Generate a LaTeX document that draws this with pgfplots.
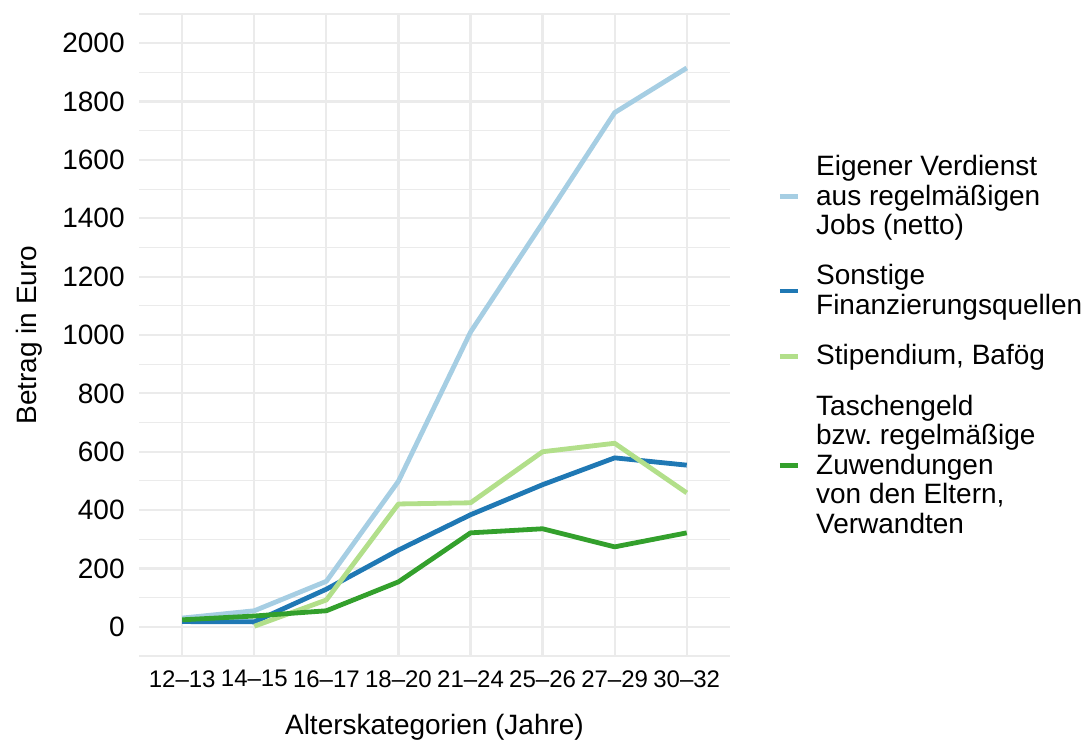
\documentclass[border=0pt]{standalone}
\usepackage{pgfplots}
\pgfplotsset{compat=1.18}
\usepackage{fontspec}
\setmainfont{Liberation Sans}
\frenchspacing
\definecolor{cA}{HTML}{A6CEE3}
\definecolor{cB}{HTML}{1F78B4}
\definecolor{cC}{HTML}{B2DF8A}
\definecolor{cD}{HTML}{33A02C}
\definecolor{gridc}{HTML}{EBEBEB}
\begin{document}
\begin{tikzpicture}
\useasboundingbox (0,0) rectangle (541pt,370pt);
\begin{axis}[
  at={(69.5pt,42pt)}, anchor=south west,
  scale only axis, width=295.5pt, height=321pt,
  xmin=-0.6, xmax=7.6, ymin=-100, ymax=2100,
  xtick={0,1,2,3,4,5,6,7},
  xticklabels={12–13,14–15,16–17,18–20,21–24,25–26,27–29,30–32},
  ytick={0,200,...,2000},
  minor ytick={-100,100,300,500,700,900,1100,1300,1500,1700,1900,2100},
  grid=both,
  major grid style={color=gridc, line width=1.1pt},
  minor grid style={color=gridc, line width=0.55pt},
  axis line style={draw=none},
  tick style={draw=none},
  /pgf/number format/assume math mode=true,
  yticklabel style={font=\fontsize{14}{16}\selectfont, inner sep=0pt, xshift=-7pt, /pgf/number format/1000 sep={}},
  xticklabel style={font=\fontsize{12}{14}\selectfont, inner sep=0pt, yshift=-7pt},
  xlabel={Alterskategorien (Jahre)},
  xlabel style={at={(axis description cs:0.5,-0.0905)}, anchor=north, inner sep=0pt, font=\fontsize{14}{16}\selectfont},
  ylabel={Betrag in Euro},
  ylabel style={at={(axis description cs:-0.1624,0.5)}, anchor=south, inner sep=0pt, font=\fontsize{14}{16}\selectfont},
  legend style={at={(axis description cs:1.0795,0.7804)}, anchor=north west, draw=none, fill=none, inner sep=0pt,
    row sep=13.5pt, column sep=8pt, font=\fontsize{14}{14.75}\selectfont,
    cells={anchor=west, align=left}, nodes={inner sep=0pt}},
  legend image code/.code={\draw[#1] (0pt,0pt) -- (9pt,0pt);},
]
\addplot[cA, line width=2.4pt, line join=round] coordinates {(0,30) (1,55) (2,156) (3,499) (4,1010) (5,1384) (6,1762) (7,1915)};
\addlegendentry{Eigener Verdienst\\aus regelmäßigen\\Jobs (netto)}
\addplot[cB, line width=2.4pt, line join=round] coordinates {(0,18) (1,17) (2,129) (3,263) (4,384) (5,487) (6,579) (7,554)};
\addlegendentry{Sonstige\\Finanzierungsquellen}
\addplot[cC, line width=2.4pt, line join=round] coordinates {(1,2) (2,92) (3,421) (4,425) (5,600) (6,629) (7,459)};
\addlegendentry{Stipendium, Bafög}
\addplot[cD, line width=2.4pt, line join=round] coordinates {(0,24) (1,37) (2,55) (3,154) (4,322) (5,336) (6,274) (7,322)};
\addlegendentry{Taschengeld\\bzw.\ regelmäßige\\Zuwendungen\\von den Eltern,\\Verwandten}
\end{axis}
\end{tikzpicture}
\end{document}
